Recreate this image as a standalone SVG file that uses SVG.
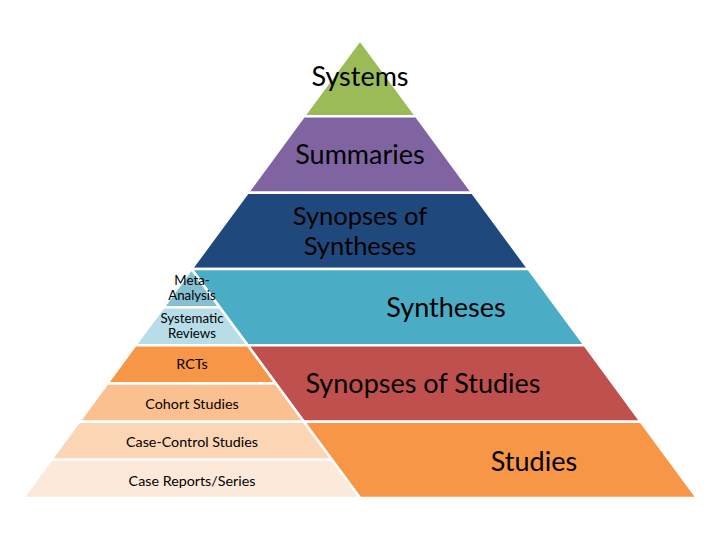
<svg xmlns="http://www.w3.org/2000/svg" width="720" height="540" viewBox="0 0 720 540">
<style>
  .layer polygon { stroke: #ffffff; stroke-width: 2.5; stroke-linejoin: round; }
  .big { font-family: Lato, "Liberation Sans", sans-serif; font-size: 27px; fill: #000000; text-anchor: middle; }
  .big2 { font-family: Lato, "Liberation Sans", sans-serif; font-size: 25.5px; fill: #000000; text-anchor: middle; }
  .small { font-family: Lato, "Liberation Sans", sans-serif; font-size: 14.3px; fill: #000000; text-anchor: middle; }
  .small2 { font-family: Lato, "Liberation Sans", sans-serif; font-size: 13.3px; fill: #000000; text-anchor: middle; }
</style>
<rect width="720" height="540" fill="#ffffff"/>
<g id="systems" class="layer">
  <polygon points="360,40 416.17,116.33 303.83,116.33" fill="#9BBB59"/>
  <text class="big" x="360" y="86">Systems</text>
</g>
<g id="summaries" class="layer">
  <polygon points="303.83,116.33 416.17,116.33 472.33,192.67 247.67,192.67" fill="#8064A2"/>
  <text class="big" x="360" y="164">Summaries</text>
</g>
<g id="synopses-of-syntheses" class="layer">
  <polygon points="247.67,192.67 472.33,192.67 528.5,269 191.5,269" fill="#1F497D"/>
  <text class="big2" x="360" y="225">Synopses of<tspan x="360" dy="29.5">Syntheses</tspan></text>
</g>
<g id="syntheses" class="layer">
  <polygon points="191.5,269 528.5,269 584.67,345.33 247.67,345.33" fill="#4BACC6"/>
  <text class="big" x="446" y="317">Syntheses</text>
</g>
<g id="synopses-of-studies" class="layer">
  <polygon points="247.67,345.33 584.67,345.33 640.83,421.67 303.83,421.67" fill="#C0504D"/>
  <text class="big" x="423" y="393">Synopses of Studies</text>
</g>
<g id="studies" class="layer">
  <polygon points="303.83,421.67 640.83,421.67 697,498 360,498" fill="#F79646"/>
  <text class="big" x="534" y="471">Studies</text>
</g>
<g id="meta-analysis" class="layer">
  <polygon points="191.5,269 219.58,307.17 163.42,307.17" fill="#86BFD2"/>
  <text class="small2" x="192" y="284.5">Meta-<tspan x="192" dy="15.5">Analysis</tspan></text>
</g>
<g id="systematic-reviews" class="layer">
  <polygon points="163.42,307.17 219.58,307.17 247.67,345.33 135.33,345.33" fill="#B7DEE8"/>
  <text class="small2" x="192" y="322.5">Systematic<tspan x="192" dy="15.5">Reviews</tspan></text>
</g>
<g id="rcts" class="layer">
  <polygon points="135.33,345.33 247.67,345.33 275.75,383.5 107.25,383.5" fill="#F79646"/>
  <text class="small" x="192" y="369">RCTs</text>
</g>
<g id="cohort-studies" class="layer">
  <polygon points="107.25,383.5 275.75,383.5 303.83,421.67 79.17,421.67" fill="#FAC090"/>
  <text class="small" x="192" y="409">Cohort Studies</text>
</g>
<g id="case-control-studies" class="layer">
  <polygon points="79.17,421.67 303.83,421.67 331.92,459.83 51.08,459.83" fill="#FCD5B5"/>
  <text class="small" x="192" y="447">Case-Control Studies</text>
</g>
<g id="case-reports-series" class="layer">
  <polygon points="51.08,459.83 331.92,459.83 360,498 23,498" fill="#FDE9D9"/>
  <text class="small" x="192" y="486">Case Reports/Series</text>
</g>
<g id="connectors"/>
</svg>
